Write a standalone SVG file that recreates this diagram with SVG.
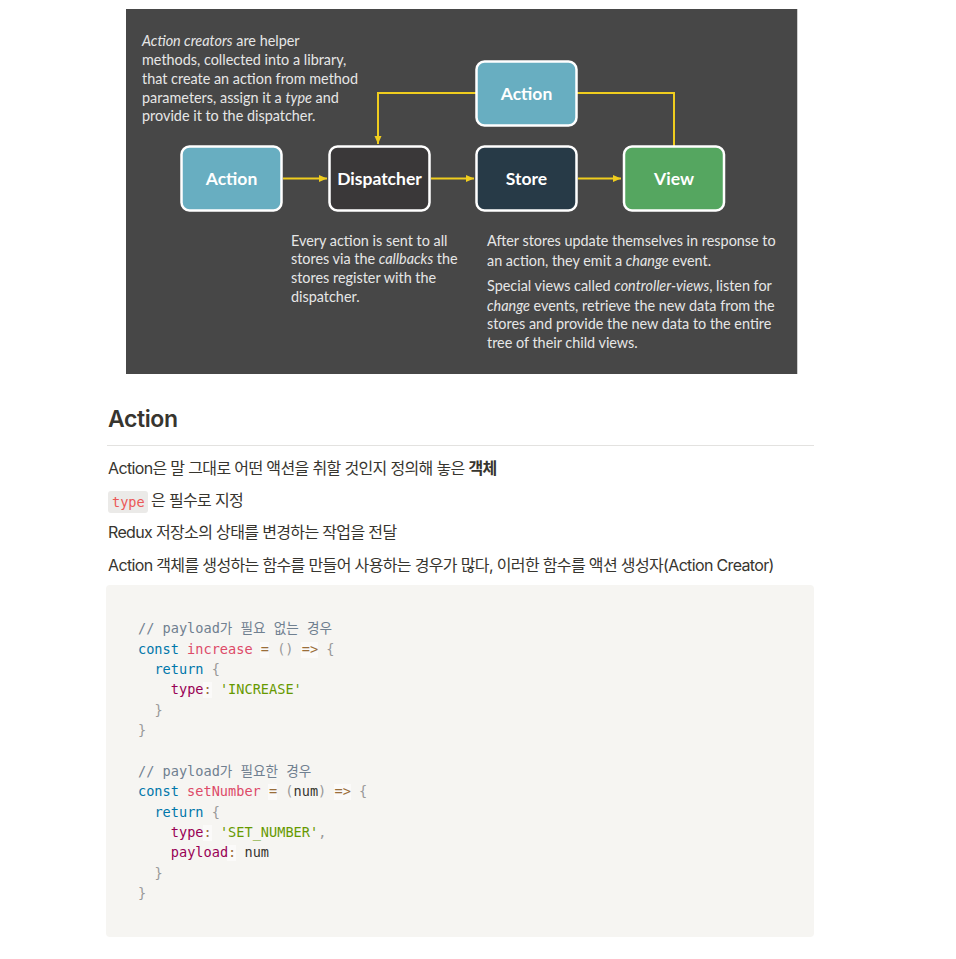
<svg xmlns="http://www.w3.org/2000/svg" width="956" height="959" viewBox="0 0 956 959">
<defs>
<style>
.dtxt{font-family:Lato,"Open Sans",sans-serif;font-size:14.4px;fill:#e6e6e6}
.lbl{font-family:Lato,"Open Sans",sans-serif;font-size:17.5px;font-weight:bold;fill:#ffffff;text-anchor:middle}
.node{stroke:#ffffff;stroke-width:2.5}
.conn{stroke:#f0cd1e;stroke-width:2;fill:none}
.p{font-family:Inter,"Noto Sans CJK KR",sans-serif;font-size:16px;letter-spacing:-0.65px;fill:#37352f}
.code text{font-family:"DejaVu Sans Mono","Noto Sans CJK KR",monospace;font-size:13.6px;fill:#37352f}
.cm{fill:#708090}.kw{fill:#0077aa}.fn{fill:#dd4a68}.op{fill:#9a6e3a}.pu{fill:#999999}.pr{fill:#990055}.st{fill:#669900}
.code .cm{fill:#708090}.code .pu{fill:#999999}
.opbg{fill:#ffffff;fill-opacity:0.5}
</style>
<marker id="ah" viewBox="0 0 8 8" refX="8" refY="4" markerWidth="8" markerHeight="8" markerUnits="userSpaceOnUse" orient="auto">
<path d="M0,0.5 L8,4 L0,7.5 Z" fill="#f0cd1e"/>
</marker>
</defs>
<rect width="956" height="959" fill="#ffffff"/>

<!-- Flux diagram image -->
<rect x="126" y="9" width="671" height="365" fill="#474747"/>
<line x1="797.5" y1="9" x2="797.5" y2="374" stroke="#cfcfcf" stroke-width="1"/>

<text class="dtxt" x="142" y="46"><tspan font-style="italic">Action creators</tspan> are helper</text>
<text class="dtxt" x="142" y="65">methods, collected into a library,</text>
<text class="dtxt" x="142" y="84">that create an action from method</text>
<text class="dtxt" x="142" y="103">parameters, assign it a <tspan font-style="italic">type</tspan> and</text>
<text class="dtxt" x="142" y="121">provide it to the dispatcher.</text>

<g id="connectors">
<line class="conn" x1="283" y1="178.5" x2="327" y2="178.5" marker-end="url(#ah)"/>
<line class="conn" x1="431" y1="178.5" x2="474" y2="178.5" marker-end="url(#ah)"/>
<line class="conn" x1="578" y1="178.5" x2="621" y2="178.5" marker-end="url(#ah)"/>
<polyline class="conn" points="674,146 674,93 577,93"/>
<polyline class="conn" points="476,93 378,93 378,144" marker-end="url(#ah)"/>
</g>

<g id="node-action">
<rect class="node" x="181.5" y="146.5" width="100" height="64" rx="8" fill="#68aec1"/>
<text class="lbl" x="231.5" y="184.5">Action</text>
</g>
<g id="node-dispatcher">
<rect class="node" x="329.5" y="146.5" width="100" height="64" rx="8" fill="#3a3839"/>
<text class="lbl" x="379.5" y="184.5">Dispatcher</text>
</g>
<g id="node-store">
<rect class="node" x="476.5" y="146.5" width="100" height="64" rx="8" fill="#273a47"/>
<text class="lbl" x="526.5" y="184.5">Store</text>
</g>
<g id="node-view">
<rect class="node" x="624" y="146.5" width="100" height="64" rx="8" fill="#55a660"/>
<text class="lbl" x="674" y="184.5">View</text>
</g>
<g id="node-action-top">
<rect class="node" x="476.5" y="61.5" width="100" height="64" rx="8" fill="#68aec1"/>
<text class="lbl" x="526.5" y="99.5">Action</text>
</g>

<text class="dtxt" x="291" y="245.5">Every action is sent to all</text>
<text class="dtxt" x="291" y="264">stores via the <tspan font-style="italic">callbacks</tspan> the</text>
<text class="dtxt" x="291" y="283">stores register with the</text>
<text class="dtxt" x="291" y="301.5">dispatcher.</text>

<text class="dtxt" x="487" y="245.5">After stores update themselves in response to</text>
<text class="dtxt" x="487" y="265.5">an action, they emit a <tspan font-style="italic">change</tspan> event.</text>
<text class="dtxt" x="487" y="291">Special views called <tspan font-style="italic">controller-views</tspan>, listen for</text>
<text class="dtxt" x="487" y="310.5"><tspan font-style="italic">change</tspan> events, retrieve the new data from the</text>
<text class="dtxt" x="487" y="329">stores and provide the new data to the entire</text>
<text class="dtxt" x="487" y="347.5">tree of their child views.</text>

<!-- Page text -->
<text x="108" y="427" font-family="Inter,'Noto Sans CJK KR',sans-serif" font-size="23" font-weight="600" letter-spacing="-0.4" fill="#37352f">Action</text>
<line x1="107" y1="445.5" x2="814" y2="445.5" stroke="#e3e2e0" stroke-width="1"/>

<text class="p" x="108" y="474">Action은 말 그대로 어떤 액션을 취할 것인지 정의해 놓은 <tspan font-weight="bold">객체</tspan></text>
<rect x="108" y="491" width="40" height="22" rx="3" fill="#ebeae8"/>
<text x="112" y="507" font-family="'DejaVu Sans Mono',monospace" font-size="13.6" fill="#eb5757">type</text>
<text class="p" x="151" y="506">은 필수로 지정</text>
<text class="p" x="108" y="538">Redux 저장소의 상태를 변경하는 작업을 전달</text>
<text class="p" x="108" y="571">Action 객체를 생성하는 함수를 만들어 사용하는 경우가 많다, 이러한 함수를 액션 생성자(Action Creator)</text>

<!-- Code block -->
<rect x="106" y="585" width="708" height="352" rx="4" fill="#f6f5f2"/>
<g class="code">
<rect class="opbg" x="260" y="642" width="9" height="16"/>
<rect class="opbg" x="301" y="642" width="17" height="16"/>
<rect class="opbg" x="203" y="682" width="9" height="16"/>
<rect class="opbg" x="268" y="784" width="9" height="16"/>
<rect class="opbg" x="334" y="784" width="17" height="16"/>
<rect class="opbg" x="203" y="825" width="9" height="16"/>
<rect class="opbg" x="227" y="845" width="9" height="16"/>
<text x="138" y="633" class="cm">// payload가 필요 없는 경우</text>
<text x="138" y="654"><tspan class="kw">const</tspan> <tspan class="fn">increase</tspan> <tspan class="op">=</tspan> <tspan class="pu">()</tspan> <tspan class="op">=&gt;</tspan> <tspan class="pu">{</tspan></text>
<text x="154.4" y="674"><tspan class="kw">return</tspan> <tspan class="pu">{</tspan></text>
<text x="170.8" y="694"><tspan class="pr">type</tspan><tspan class="op">:</tspan> <tspan class="st">'INCREASE'</tspan></text>
<text x="154.4" y="715" class="pu">}</text>
<text x="138" y="735" class="pu">}</text>
<text x="138" y="776" class="cm">// payload가 필요한 경우</text>
<text x="138" y="796"><tspan class="kw">const</tspan> <tspan class="fn">setNumber</tspan> <tspan class="op">=</tspan> <tspan class="pu">(</tspan>num<tspan class="pu">)</tspan> <tspan class="op">=&gt;</tspan> <tspan class="pu">{</tspan></text>
<text x="154.4" y="817"><tspan class="kw">return</tspan> <tspan class="pu">{</tspan></text>
<text x="170.8" y="837"><tspan class="pr">type</tspan><tspan class="op">:</tspan> <tspan class="st">'SET_NUMBER'</tspan><tspan class="pu">,</tspan></text>
<text x="170.8" y="857"><tspan class="pr">payload</tspan><tspan class="op">:</tspan> num</text>
<text x="154.4" y="878" class="pu">}</text>
<text x="138" y="898" class="pu">}</text>
</g>
</svg>
